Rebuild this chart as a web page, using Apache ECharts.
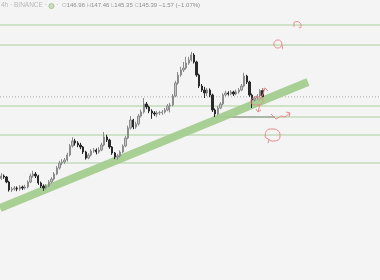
<!DOCTYPE html>
<html><head><meta charset="utf-8">
<script src="https://cdn.jsdelivr.net/npm/echarts@6/dist/echarts.min.js"></script>
<style>html,body{margin:0;padding:0;background:#f4f4f4}#c{width:380px;height:280px}</style>
</head><body><div id="c"></div>
<script>
// candle data (4h BINANCE)
const opens=[125.0,125.6,125.35,124.1,122.1,122.35,122.6,122.35,122.85,122.6,
122.85,124.1,125.6,126.1,125.6,123.85,123.1,122.6,123.1,124.1,
124.85,126.1,127.6,128.85,129.1,129.6,130.85,133.1,134.35,133.85,
133.35,132.85,131.6,130.1,130.85,131.85,132.1,131.6,132.1,133.35,
135.35,134.6,132.85,131.35,130.35,130.6,131.6,133.1,135.1,137.6,
139.6,137.85,138.6,140.6,141.6,143.6,142.85,141.85,141.35,141.1,
141.35,141.45,141.6,142.1,143.1,143.35,145.6,148.85,150.85,152.1,
152.6,153.85,154.6,155.85,154.1,150.85,148.1,147.1,146.35,147.1,
145.85,142.1,141.1,142.6,143.6,145.85,146.35,146.1,146.6,146.1,
146.6,147.1,148.1,150.6,149.1,145.85,144.6,145.1,145.6,146.96];
const closes=[125.6,125.35,124.1,122.1,122.35,122.6,122.35,122.85,122.6,122.85,
124.1,125.6,126.1,125.6,123.85,123.1,122.6,123.1,124.1,124.85,
126.1,127.6,128.85,129.1,129.6,130.85,133.1,134.35,133.85,133.35,
132.85,131.6,130.1,130.85,131.85,132.1,131.6,132.1,133.35,135.35,
134.6,132.85,131.35,130.35,130.6,131.6,133.1,135.1,137.6,139.6,
137.85,138.6,140.6,141.6,143.6,142.85,141.85,141.35,141.1,141.35,
141.45,141.6,142.1,143.1,143.35,145.6,148.85,150.85,152.1,152.6,
153.85,154.6,155.85,154.1,150.85,148.1,147.1,146.35,147.1,145.85,
142.1,141.1,142.6,143.6,145.85,146.35,146.1,146.6,146.1,146.6,
147.1,148.1,150.6,149.1,145.85,144.6,145.1,145.6,146.96,145.39];
const highs=[126.3,126.0,125.6,124.4,122.9,123.1,123.0,123.3,123.2,123.4,
124.5,126.2,126.9,126.6,125.9,124.2,123.5,123.6,124.6,125.3,
126.6,128.1,129.4,129.8,130.1,131.4,133.6,135.3,134.9,134.3,
133.9,133.1,131.9,131.3,132.3,132.6,132.5,132.8,133.9,136.6,
135.9,134.9,133.1,131.6,131.1,132.0,133.5,135.6,138.2,140.6,
139.9,139.2,141.1,142.2,145.1,144.1,143.2,142.3,141.8,141.9,
141.9,142.1,142.6,143.6,143.9,146.1,149.4,151.6,152.9,154.1,
155.4,155.4,156.6,156.3,154.4,151.2,148.6,147.9,147.6,147.5,
146.2,142.5,143.1,144.1,146.3,146.9,146.8,147.1,146.9,147.2,
147.6,148.6,151.4,150.9,149.4,146.2,145.6,146.1,147.3,147.46];
const lows=[124.6,124.9,123.8,121.7,121.6,121.9,121.8,121.9,122.1,122.2,
122.5,123.8,125.2,125.1,123.4,122.6,121.9,122.2,122.8,123.7,
124.5,125.8,127.2,128.3,128.6,129.2,130.5,132.7,133.2,132.8,
132.3,131.1,129.7,129.8,130.5,131.4,131.0,131.2,131.8,133.0,
134.1,132.4,130.9,129.8,129.6,130.2,131.3,132.8,134.8,137.2,
137.3,137.4,138.2,140.2,141.2,142.3,141.3,139.9,140.6,140.3,
140.8,140.9,141.2,141.8,141.5,143.0,145.3,148.4,150.4,151.6,
152.2,153.4,154.2,153.7,150.4,147.6,146.6,145.1,145.6,145.3,
141.6,140.35,140.8,142.3,143.3,145.5,145.7,145.8,145.6,145.8,
146.2,146.8,147.8,148.6,145.4,142.6,144.2,144.7,145.3,145.35];
// horizontal levels
const levels=[163.35,158.35,143.1,135.85,128.85];
const rayLevel=140.35, rayStart=80.2, raySegEnd=103.7;
const lastPrice=145.39;
// trend band endpoints [index, price]
const band=[[-0.5,117.6],[116.2,149.1]];
// red hand-drawn annotations [index, price]
const doodleA=[[106.3,158.6],[105.9,159.3],[104.8,159.6],[103.7,159.3],[103.3,158.6],[103.7,157.9],[104.8,157.6],[105.9,157.9],[106.3,158.5],[106.6,157.3]];
const doodleB=[[110.9,162.85],[110.9,163.85],[112.0,164.2],[113.2,163.85],[113.6,163.1],[113.2,162.6],[112.7,162.9]];
const doodleC=[[101.0,133.8],[101.4,134.6],[100.0,135.4],[100.5,136.9],[102.6,137.35],[104.9,136.9],[105.6,135.7],[104.9,134.6],[102.6,134.35],[101.3,134.8]];
const doodleD=[[102.2,141.1],[104.1,139.85],[106.0,140.6],[107.5,140.35],[109.4,141.35]];
const doodleD2=[[107.9,141.6],[109.4,141.35],[109.0,140.35]];
const doodleE=[[97.6,144.35],[99.2,146.1],[99.9,147.6]];
const doodleE2=[[98.8,147.1],[99.9,147.6],[101.1,146.85]];
const doodleF=[[99.2,144.35],[98.5,145.1],[96.9,145.35],[95.1,145.0],[94.6,144.35],[95.1,143.6],[96.9,143.35],[98.5,143.6],[99.2,144.2]];
const doodleF2=[[98.0,143.6],[97.3,141.6]];
const doodleF3=[[96.5,142.35],[97.3,141.6],[98.4,142.1]];
const headerLabels=["O","H","L","C"];
const headerValues=["146.96","147.46","145.35","145.39"];
const headerChange="−1.57 (−1.07%)";

const N=144;
const cats=Array.from({length:N},(_,i)=>String(i));
const candles=opens.map((o,i)=>[o,closes[i],lows[i],highs[i]]);
const red='#e88a8a';
function doodle(d,smooth){return {type:'line',xAxisIndex:1,data:d,symbol:'none',smooth:smooth?0.5:false,silent:true,lineStyle:{color:red,width:1},z:6};}
const series=[
 {type:'candlestick',data:candles,barWidth:'70%',z:4,
  itemStyle:{color:'#c4c4c4',color0:'#2a2a2a',borderColor:'#8c8c8c',borderColor0:'#2a2a2a',borderWidth:1}},
 {type:'line',xAxisIndex:1,data:band,symbol:'none',silent:true,z:3,lineStyle:{color:'#a3cd8f',width:8,cap:'butt',opacity:0.95}},
];
levels.forEach(l=>series.push({type:'line',xAxisIndex:1,data:[[-0.5,l],[143.5,l]],symbol:'none',silent:true,z:2,lineStyle:{color:'#a9d09a',width:1}}));
series.push({type:'line',xAxisIndex:1,data:[[rayStart,rayLevel],[143.5,rayLevel]],symbol:'none',silent:true,z:2,lineStyle:{color:'#a9d09a',width:1}});
series.push({type:'line',xAxisIndex:1,data:[[rayStart,rayLevel],[raySegEnd,rayLevel]],symbol:'none',silent:true,z:2,lineStyle:{color:'#8a8a8a',width:1}});
series.push({type:'line',xAxisIndex:1,data:[[-0.5,lastPrice],[143.5,lastPrice]],symbol:'none',silent:true,z:1,lineStyle:{color:'#aaaaaa',width:1,type:[1,2]}});
series.push(doodle(doodleA,true),doodle(doodleB,true),doodle(doodleC,true),doodle(doodleD,false),doodle(doodleD2,false),doodle(doodleE,false),doodle(doodleE2,false),doodle(doodleF,true),doodle(doodleF2,false),doodle(doodleF3,false));

let rich='{a|4h · BINANCE ·}';
const font='"Liberation Sans", Arial, sans-serif';
const graphic=[
 {type:'text',left:1,top:2,style:{text:'4h · BINANCE ·',fill:'#b8b8b8',font:'6.5px '+font}},
 {type:'circle',shape:{cx:51.5,cy:6,r:2.6},style:{fill:'#c9dcc0',stroke:'#9fbf90',lineWidth:0.8}},
 {type:'text',left:56,top:2,style:{text:'·',fill:'#b8b8b8',font:'6.5px '+font}},
 {type:'text',left:62,top:2,style:{
   text:headerLabels.map((l,i)=>'{l|'+l+'}{v|'+headerValues[i]+'}').join(' ')+' {v|'+headerChange+'}',
   font:'6px '+font,
   rich:{l:{fill:'#b8b8b8',font:'6px '+font},v:{fill:'#8c8c8c',font:'6px '+font}}}}
];

const chart=echarts.init(document.getElementById('c'),null,{renderer:'canvas'});
chart.setOption({
 animation:false,backgroundColor:'#f4f4f4',
 grid:{left:0,right:0,top:0,bottom:0},
 xAxis:[{type:'category',data:cats,show:false,boundaryGap:true},
        {type:'value',min:-0.5,max:143.5,show:false}],
 yAxis:{type:'value',min:99.6,max:169.6,show:false,scale:true},
 graphic:graphic,
 series:series
});
</script></body></html>
